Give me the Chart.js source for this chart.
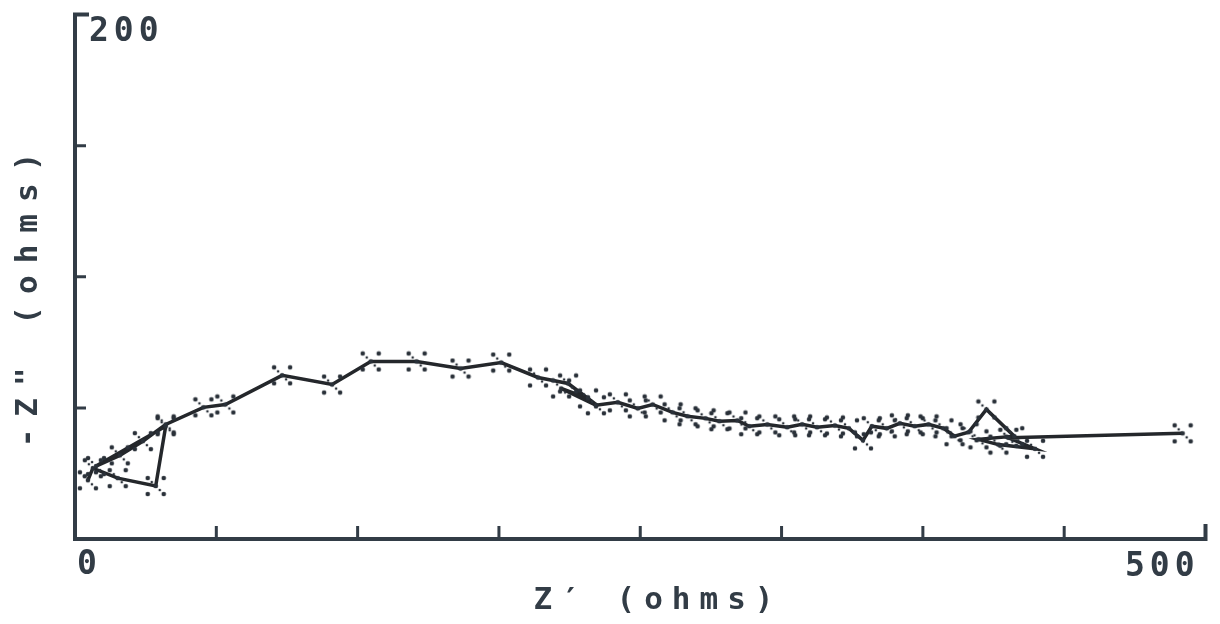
<!DOCTYPE html>
<html>
<head>
<meta charset="utf-8">
<script src="https://cdn.jsdelivr.net/npm/chart.js@4.4.0/dist/chart.umd.min.js"></script>
<style>
  html, body { margin: 0; padding: 0; background: #fff; }
  #chart-container { width: 1220px; height: 624px; }
</style>
</head>
<body>
<div id="chart-container">
  <canvas id="myChart" width="1220" height="624"></canvas>
</div>
<script>
// impedance sweep: real part Z' vs. -Z" (both in ohms), in measurement order
const zReal = [5.7, 7.9, 18.9, 35.7, 40.1, 9.3, 19.8, 30.0, 40.1, 56.8,
  66.5, 91.6, 113.7, 130.8, 151.1, 170.5, 188.5, 204.8, 218.1, 226.9,
  215.0, 230.4, 240.1, 248.9, 255.5, 264.3, 270.9, 278.9, 285.0, 293.0,
  298.2, 306.2, 315.0, 321.6, 328.2, 336.1, 342.3, 348.5, 352.4, 359.0,
  364.8, 371.4, 377.5, 384.1, 389.0, 395.2, 403.1, 415.4, 399.6, 408.4,
  424.6, 412.8, 489.9];
const zImag = [22.4, 27.0, 23.2, 20.2, 43.0, 27.8, 31.9, 37.3, 43.7, 50.2,
  51.3, 62.4, 58.9, 67.7, 67.7, 65.0, 67.3, 61.6, 59.3, 53.6,
  57.4, 51.0, 52.1, 49.8, 51.3, 48.3, 46.8, 46.0, 44.9, 45.2,
  43.0, 43.7, 42.6, 43.7, 42.6, 43.3, 42.2, 37.6, 43.0, 42.2,
  44.1, 43.0, 43.7, 42.2, 39.2, 40.7, 49.4, 39.2, 38.0, 36.0,
  34.4, 38.6, 40.3];

const xMax = 500, yMax = 200;
const xTickStep = 62.5, yTickStep = 50;
const xTickLabels = [[0, '0'], [500, '500']];
const yTickLabels = [[200, '200']];
const xTitle = "Z\u2032 (ohms)";
const yTitle = '-Z" (ohms)';

const ink = '#323c46';
const fontFamily = '"DejaVu Sans Mono", monospace';

// dotted "x" used as the plotter's point symbol
function makeMarker() {
  const c = document.createElement('canvas');
  c.width = 22; c.height = 22;
  const g = c.getContext('2d');
  g.fillStyle = '#2a3139';
  const offs = [[-8, -8, 2.3], [8, -8, 2.3], [-8, 8, 2.3], [8, 8, 2.3],
    [-4, -4, 1.3], [4, 4, 1.3], [0, 0, 2.3]];
  offs.forEach(([dx, dy, r]) => {
    g.beginPath();
    g.arc(11 + dx, 11 + dy, r, 0, Math.PI * 2);
    g.fill();
  });
  return c;
}

// axes, inward ticks and the corner labels
const plotterAxes = {
  id: 'plotterAxes',
  afterDraw(chart) {
    const { ctx, chartArea: a, scales: { x, y } } = chart;
    ctx.save();
    ctx.strokeStyle = ink;
    ctx.lineWidth = 4;
    ctx.beginPath();
    ctx.moveTo(a.left + 14, a.top);
    ctx.lineTo(a.left, a.top);
    ctx.lineTo(a.left, a.bottom);
    ctx.lineTo(a.right, a.bottom);
    ctx.lineTo(a.right, a.bottom - 15);
    ctx.stroke();

    ctx.lineWidth = 3;
    ctx.beginPath();
    for (let v = xTickStep; v < xMax - 1; v += xTickStep) {
      const px = x.getPixelForValue(v);
      ctx.moveTo(px, a.bottom);
      ctx.lineTo(px, a.bottom - 13);
    }
    for (let v = yTickStep; v < yMax; v += yTickStep) {
      const py = y.getPixelForValue(v);
      ctx.moveTo(a.left, py);
      ctx.lineTo(a.left + 11, py);
    }
    ctx.stroke();

    ctx.fillStyle = ink;
    ctx.font = 'bold 33px ' + fontFamily;
    ctx.letterSpacing = '5px';
    ctx.textBaseline = 'top';
    yTickLabels.forEach(([v, t]) => {
      ctx.textAlign = 'left';
      ctx.fillText(t, a.left + 14, y.getPixelForValue(v) + 1);
    });
    xTickLabels.forEach(([v, t]) => {
      const px = x.getPixelForValue(v);
      if (v === 0) {
        ctx.textAlign = 'left';
        ctx.fillText(t, px + 2, a.bottom + 10);
      } else {
        ctx.textAlign = 'right';
        ctx.fillText(t, px - 6, a.bottom + 12);
      }
    });

    ctx.font = 'bold 31px ' + fontFamily;
    ctx.letterSpacing = '9px';
    ctx.textAlign = 'center';
    ctx.textBaseline = 'middle';
    ctx.fillText(xTitle, 658, 601);

    ctx.translate(29, 294);
    ctx.rotate(-Math.PI / 2);
    ctx.letterSpacing = '12px';
    ctx.fillText(yTitle, 0, 0);
    ctx.restore();
  }
};

function createChart() {
  const points = zReal.map((v, i) => ({ x: v, y: zImag[i] }));
  const ctx = document.getElementById('myChart').getContext('2d');
  new Chart(ctx, {
    type: 'scatter',
    data: {
      datasets: [{
        data: points,
        showLine: true,
        tension: 0,
        borderColor: '#24272b',
        borderWidth: 3.5,
        pointStyle: makeMarker(),
        pointRadius: 11,
        clip: false
      }]
    },
    options: {
      responsive: false,
      animation: false,
      devicePixelRatio: 1,
      layout: { padding: { left: 75, top: 13, right: 10, bottom: 85 } },
      plugins: { legend: { display: false }, tooltip: { enabled: false } },
      scales: {
        x: { type: 'linear', min: 0, max: xMax, display: false },
        y: { type: 'linear', min: 0, max: yMax, display: false }
      }
    },
    plugins: [plotterAxes]
  });
}

createChart();
</script>
</body>
</html>
